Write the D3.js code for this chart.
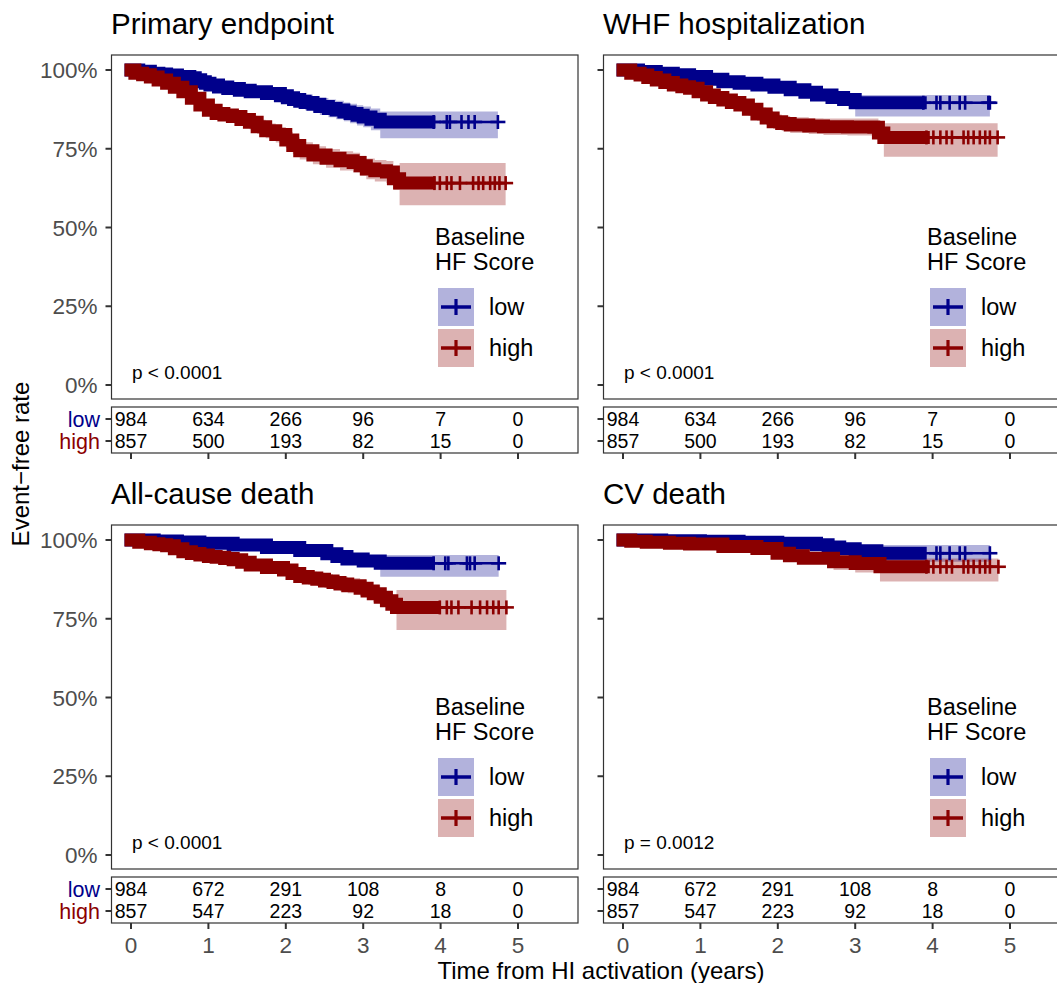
<!DOCTYPE html>
<html><head><meta charset="utf-8">
<script src="https://cdn.jsdelivr.net/npm/d3@7"></script>
<style>html,body{margin:0;padding:0;background:#fff;}svg{display:block;}</style>
</head><body>
<script>
// ---------------- DATA ----------------
const panelTitles = ["Primary endpoint", "WHF hospitalization", "All-cause death", "CV death"];
const pValues = ["p < 0.0001", "p < 0.0001", "p < 0.0001", "p = 0.0012"];
const groupNames = ["low", "high"];
const legendTitle = ["Baseline", "HF Score"];
const xTicks = [0, 1, 2, 3, 4, 5];
const yTicks = [0, 0.25, 0.5, 0.75, 1];
const yTickLabels = ["0%", "25%", "50%", "75%", "100%"];
const riskTimes = [0, 1, 2, 3, 4, 5];
const riskTopLow = [984, 634, 266, 96, 7, 0];
const riskTopHigh = [857, 500, 193, 82, 15, 0];
const riskBotLow = [984, 672, 291, 108, 8, 0];
const riskBotHigh = [857, 547, 223, 92, 18, 0];

// Primary endpoint
const primLowT  = [0, .1, .25, .36, .46, .6, .76, .83, .9, .96, 1.02, 1.13, 1.25, 1.4, 1.54, 1.75, 1.93, 2.02, 2.1, 2.18, 2.25, 2.35, 2.44, 2.55, 2.65, 2.75, 2.83, 2.92, 3.0, 3.1, 3.22];
const primLowS  = [1, .996, .99, .987, .984, .979, .975, .969, .963, .958, .952, .946, .941, .936, .931, .925, .918, .912, .906, .901, .897, .891, .884, .878, .873, .867, .862, .856, .851, .844, .835];
const primLowLo = [1, .992, .984, .980, .976, .970, .965, .958, .951, .945, .939, .932, .926, .920, .914, .906, .897, .890, .883, .877, .872, .865, .857, .850, .844, .837, .831, .824, .818, .809, .783];
const primLowHi = [1, 1, .996, .994, .992, .988, .985, .980, .975, .971, .965, .960, .956, .952, .948, .944, .939, .934, .929, .925, .922, .917, .911, .906, .902, .897, .893, .888, .884, .878, .868];
const primLowEnd = 4.74, primLowDense = 3.85;
const primLowCens = [3.91, 4.08, 4.12, 4.27, 4.36, 4.44, 4.74];

const primHighT  = [0, .05, .15, .25, .35, .46, .56, .67, .78, .89, 1.0, 1.1, 1.2, 1.31, 1.42, 1.53, 1.63, 1.74, 1.87, 2.0, 2.09, 2.18, 2.35, 2.52, 2.7, 2.87, 2.96, 3.04, 3.15, 3.3, 3.39, 3.47];
const primHighS  = [1, .99, .985, .978, .968, .958, .945, .931, .91, .889, .872, .862, .857, .852, .843, .834, .82, .807, .795, .778, .76, .744, .73, .72, .712, .706, .696, .686, .68, .676, .655, .641];
const primHighLo = [1, .983, .977, .969, .958, .947, .932, .917, .895, .873, .855, .844, .838, .832, .822, .812, .797, .783, .770, .752, .733, .716, .701, .690, .681, .675, .664, .653, .646, .641, .619, .571];
const primHighHi = [1, .997, .993, .987, .978, .969, .957, .944, .924, .904, .888, .879, .875, .871, .863, .855, .842, .830, .819, .803, .786, .771, .758, .749, .742, .737, .728, .719, .714, .711, .692, .705];
const primHighEnd = 4.84, primHighDense = 3.85;
const primHighCens = [3.92, 3.99, 4.08, 4.14, 4.25, 4.42, 4.49, 4.55, 4.64, 4.70, 4.76, 4.84];

// WHF hospitalization
const whfLowT  = [0, 0.2, 0.43, 0.65, 0.86, 1.08, 1.29, 1.5, 1.73, 1.95, 2.16, 2.35, 2.5, 2.7, 2.85, 3.0];
const whfLowS  = [1, .995, .99, .985, .979, .971, .963, .958, .952, .945, .937, .929, .921, .913, .906, .896];
const whfLowLo = [1, .990, .984, .978, .971, .962, .953, .947, .940, .932, .923, .914, .905, .896, .887, .852];
const whfLowHi = [1, 1, .996, .992, .987, .980, .973, .969, .964, .958, .951, .944, .937, .930, .925, .921];
const whfLowEnd = 4.74, whfLowDense = 3.84;
const whfLowCens = [3.88, 4.05, 4.10, 4.22, 4.35, 4.42, 4.72, 4.74];

const whfHighT  = [0, .1, .22, .32, .43, .54, .65, .76, .86, .97, 1.08, 1.18, 1.29, 1.4, 1.51, 1.62, 1.73, 1.85, 1.94, 2.05, 2.16, 2.4, 2.59, 2.9, 3.24, 3.3, 3.37];
const whfHighS  = [1, .99, .984, .976, .968, .960, .952, .947, .942, .931, .921, .913, .905, .897, .889, .875, .860, .848, .836, .830, .825, .822, .82, .819, .818, .80, .786];
const whfHighLo = [1, .983, .976, .967, .958, .949, .941, .935, .929, .917, .906, .897, .888, .879, .870, .855, .839, .826, .813, .806, .800, .797, .794, .792, .790, .770, .725];
const whfHighHi = [1, .997, .992, .985, .978, .971, .963, .959, .955, .945, .936, .929, .922, .915, .908, .895, .881, .870, .859, .854, .850, .847, .846, .846, .846, .830, .831];
const whfHighEnd = 4.84, whfHighDense = 3.88;
const whfHighCens = [3.92, 4.01, 4.10, 4.18, 4.25, 4.40, 4.46, 4.53, 4.61, 4.68, 4.74, 4.84];

// All-cause death
const allLowT  = [0, 0.3, 0.6, 0.89, 1.32, 1.75, 2.18, 2.53, 2.66, 2.79, 3.0, 3.22];
const allLowS  = [1, .997, .994, .99, .984, .976, .967, .956, .948, .94, .933, .926];
const allLowLo = [1, .994, .990, .985, .977, .967, .956, .943, .934, .924, .915, .883];
const allLowHi = [1, 1, .998, .995, .991, .985, .978, .969, .962, .956, .951, .952];
const allLowEnd = 4.75, allLowDense = 3.84;
const allLowCens = [3.91, 4.06, 4.10, 4.34, 4.38, 4.44, 4.75];

const allHighT  = [0, .1, .25, .36, .46, .56, .67, .78, .89, 1.0, 1.1, 1.21, 1.32, 1.43, 1.54, 1.75, 1.97, 2.08, 2.18, 2.29, 2.4, 2.5, 2.61, 2.7, 2.8, 2.96, 3.05, 3.13, 3.22, 3.3, 3.37, 3.43];
const allHighS  = [1, .993, .988, .985, .982, .972, .963, .957, .952, .948, .945, .941, .937, .929, .921, .913, .905, .894, .884, .879, .875, .870, .865, .860, .855, .847, .838, .829, .818, .807, .796, .786];
const allHighLo = [1, .987, .981, .977, .973, .962, .951, .944, .939, .934, .931, .926, .922, .913, .905, .896, .887, .875, .864, .858, .854, .848, .843, .837, .831, .822, .812, .802, .790, .778, .765, .714];
const allHighHi = [1, .999, .995, .993, .991, .982, .975, .970, .965, .962, .959, .956, .952, .945, .937, .930, .923, .913, .904, .900, .896, .892, .887, .883, .879, .872, .864, .856, .846, .836, .826, .841];
const allHighEnd = 4.85, allHighDense = 3.90;
const allHighCens = [3.99, 4.08, 4.14, 4.23, 4.40, 4.51, 4.60, 4.68, 4.75, 4.85];

// CV death
const cvLowT  = [0, 0.5, 1.0, 1.5, 2.0, 2.5, 2.65, 2.8, 3.0, 3.28];
const cvLowS  = [1, .998, .996, .993, .99, .985, .978, .972, .966, .958];
const cvLowLo = [1, .995, .992, .988, .984, .978, .969, .961, .953, .931];
const cvLowHi = [1, 1, 1, .998, .996, .992, .987, .983, .979, .984];
const cvLowEnd = 4.74, cvLowDense = 3.84;
const cvLowCens = [4.05, 4.10, 4.22, 4.35, 4.42, 4.74];

const cvHighT  = [0, 0.1, 0.3, 0.6, 0.86, 1.29, 1.73, 1.99, 2.15, 2.33, 2.72, 3.0, 3.32];
const cvHighS  = [1, .996, .993, .99, .987, .979, .973, .958, .95, .942, .931, .925, .915];
const cvHighLo = [1, .992, .988, .984, .980, .970, .963, .946, .936, .925, .905, .897, .868];
const cvHighHi = [1, 1, .998, .996, .994, .988, .983, .970, .964, .957, .950, .946, .941];
const cvHighEnd = 4.85, cvHighDense = 3.88;
const cvHighCens = [3.92, 4.01, 4.10, 4.18, 4.25, 4.40, 4.46, 4.53, 4.61, 4.68, 4.74, 4.85];

// -------------- assembly --------------
function curve(t, s, lo, hi, end, dense, cens) { return {t, s, lo, hi, end, dense, cens}; }
const panels = [
  {title: panelTitles[0], p: pValues[0], risk: [riskTopLow, riskTopHigh],
   curves: [curve(primLowT, primLowS, primLowLo, primLowHi, primLowEnd, primLowDense, primLowCens),
            curve(primHighT, primHighS, primHighLo, primHighHi, primHighEnd, primHighDense, primHighCens)]},
  {title: panelTitles[1], p: pValues[1], risk: [riskTopLow, riskTopHigh],
   curves: [curve(whfLowT, whfLowS, whfLowLo, whfLowHi, whfLowEnd, whfLowDense, whfLowCens),
            curve(whfHighT, whfHighS, whfHighLo, whfHighHi, whfHighEnd, whfHighDense, whfHighCens)]},
  {title: panelTitles[2], p: pValues[2], risk: [riskBotLow, riskBotHigh],
   curves: [curve(allLowT, allLowS, allLowLo, allLowHi, allLowEnd, allLowDense, allLowCens),
            curve(allHighT, allHighS, allHighLo, allHighHi, allHighEnd, allHighDense, allHighCens)]},
  {title: panelTitles[3], p: pValues[3], risk: [riskBotLow, riskBotHigh],
   curves: [curve(cvLowT, cvLowS, cvLowLo, cvLowHi, cvLowEnd, cvLowDense, cvLowCens),
            curve(cvHighT, cvHighS, cvHighLo, cvHighHi, cvHighEnd, cvHighDense, cvHighCens)]}
];

// -------------- styling / layout --------------
const W = 1057, H = 983;
const FONT = "'Liberation Sans', Arial, Helvetica, sans-serif";
const colors = ["#00008B", "#8B0000"];
const fills = ["rgba(0,0,139,0.3)", "rgba(139,0,0,0.3)"];
const cols = [{x0: 111.5, x1: 578}, {x0: 603.5, x1: 1070}];
const rows = [{py0: 55, py1: 399, ty0: 407, ty1: 453}, {py0: 525, py1: 869, ty0: 877, ty1: 923}];
const border = "#333333";

const svg = d3.select("body").append("svg").attr("width", W).attr("height", H)
  .style("font-family", FONT);

function stepPoints(c, upTo) {
  const pts = [];
  for (let i = 0; i < c.t.length; i++) {
    if (c.t[i] <= upTo) pts.push({t: c.t[i], s: c.s[i], lo: c.lo[i], hi: c.hi[i]});
  }
  const last = pts[pts.length - 1];
  pts.push({t: upTo, s: last.s, lo: last.lo, hi: last.hi});
  return pts;
}
function survAt(c, tt) {
  let v = c.s[0];
  for (let i = 0; i < c.t.length; i++) if (c.t[i] <= tt) v = c.s[i];
  return v;
}

panels.forEach((pn, i) => {
  const col = cols[i % 2], row = rows[Math.floor(i / 2)];
  const x = d3.scaleLinear().domain([-0.252, 5.775]).range([col.x0, col.x1]);
  const y = d3.scaleLinear().domain([-0.0444, 1.0476]).range([row.py1, row.py0]);
  const g = svg.append("g");

  // title
  g.append("text").attr("x", col.x0 - 0.5).attr("y", row.py0 - 21)
    .attr("font-size", 29.5).attr("fill", "#000").text(pn.title);

  // CI ribbons
  const area = d3.area().curve(d3.curveStepAfter)
    .x(d => x(d.t)).y0(d => y(d.lo)).y1(d => y(d.hi));
  pn.curves.forEach((c, k) => {
    g.append("path").attr("d", area(stepPoints(c, c.end)))
      .attr("fill", fills[k]).attr("stroke", "none");
  });
  // lines
  const line = d3.line().curve(d3.curveStepAfter).x(d => x(d.t)).y(d => y(d.s));
  pn.curves.forEach((c, k) => {
    g.append("path").attr("d", line(stepPoints(c, c.end)))
      .attr("fill", "none").attr("stroke", colors[k]).attr("stroke-width", 2.6);
    // dense censoring band (many overlapping '+' marks)
    g.append("path").attr("d", line(stepPoints(c, c.dense)))
      .attr("fill", "none").attr("stroke", colors[k]).attr("stroke-width", 13)
      .attr("stroke-linecap", "square").attr("stroke-linejoin", "miter");
    // individual censor '+' marks
    c.cens.forEach(ct => {
      const cx = x(ct), cy = y(survAt(c, ct));
      g.append("line").attr("x1", cx).attr("x2", cx).attr("y1", cy - 7).attr("y2", cy + 7)
        .attr("stroke", colors[k]).attr("stroke-width", 2.6);
      g.append("line").attr("x1", cx - 7.5).attr("x2", cx + 7.5).attr("y1", cy).attr("y2", cy)
        .attr("stroke", colors[k]).attr("stroke-width", 2.6);
    });
  });

  // panel border
  g.append("rect").attr("x", col.x0).attr("y", row.py0)
    .attr("width", col.x1 - col.x0).attr("height", row.py1 - row.py0)
    .attr("fill", "none").attr("stroke", border).attr("stroke-width", 1.2);

  // y ticks
  yTicks.forEach((v, j) => {
    g.append("line").attr("x1", col.x0 - 6).attr("x2", col.x0).attr("y1", y(v)).attr("y2", y(v))
      .attr("stroke", border).attr("stroke-width", 2);
    if (i % 2 === 0) {
      g.append("text").attr("x", col.x0 - 14).attr("y", y(v)).attr("dy", "0.36em")
        .attr("text-anchor", "end").attr("font-size", 22.5).attr("fill", "#4D4D4D").text(yTickLabels[j]);
    }
  });

  // p value
  g.append("text").attr("x", x(0) + 1).attr("y", row.py1 - 27).attr("dy", "0.35em")
    .attr("font-size", 19).attr("fill", "#000").text(pn.p);

  // legend
  const lx = col.x0 + 323.5;
  g.append("text").attr("x", lx).attr("y", row.py0 + 190).attr("font-size", 23.5).text(legendTitle[0]);
  g.append("text").attr("x", lx).attr("y", row.py0 + 215).attr("font-size", 23.5).text(legendTitle[1]);
  groupNames.forEach((nm, k) => {
    const ky = row.py0 + 233 + k * 41;
    const kx = col.x0 + 326.5;
    g.append("rect").attr("x", kx).attr("y", ky).attr("width", 36).attr("height", 38).attr("fill", fills[k]);
    g.append("line").attr("x1", kx + 3).attr("x2", kx + 33).attr("y1", ky + 19).attr("y2", ky + 19)
      .attr("stroke", colors[k]).attr("stroke-width", 3.5);
    g.append("line").attr("x1", kx + 18).attr("x2", kx + 18).attr("y1", ky + 11).attr("y2", ky + 27)
      .attr("stroke", colors[k]).attr("stroke-width", 3.2);
    g.append("text").attr("x", col.x0 + 377.5).attr("y", ky + 19).attr("dy", "0.36em")
      .attr("font-size", 23.5).text(nm);
  });

  // risk table
  g.append("rect").attr("x", col.x0).attr("y", row.ty0)
    .attr("width", col.x1 - col.x0).attr("height", row.ty1 - row.ty0)
    .attr("fill", "none").attr("stroke", border).attr("stroke-width", 1.2);
  groupNames.forEach((nm, k) => {
    const ry = row.ty0 + 12 + k * 22;
    g.append("line").attr("x1", col.x0 - 6).attr("x2", col.x0).attr("y1", ry).attr("y2", ry)
      .attr("stroke", border).attr("stroke-width", 2);
    if (i % 2 === 0) {
      g.append("text").attr("x", col.x0 - 11.5).attr("y", ry).attr("dy", "0.36em")
        .attr("text-anchor", "end").attr("font-size", 21.5).attr("fill", colors[k]).text(nm);
    }
    pn.risk[k].forEach((n, j) => {
      g.append("text").attr("x", x(riskTimes[j])).attr("y", ry).attr("dy", "0.36em")
        .attr("text-anchor", "middle").attr("font-size", 19.5).attr("fill", "#000").text(n);
    });
  });
  // x ticks under the table
  xTicks.forEach(v => {
    g.append("line").attr("x1", x(v)).attr("x2", x(v)).attr("y1", row.ty1).attr("y2", row.ty1 + 6)
      .attr("stroke", border).attr("stroke-width", 2);
    if (i >= 2) {
      g.append("text").attr("x", x(v)).attr("y", row.ty1 + 22).attr("dy", "0.36em")
        .attr("text-anchor", "middle").attr("font-size", 22.5).attr("fill", "#4D4D4D").text(v);
    }
  });
});

// axis titles
svg.append("text").attr("x", 601).attr("y", 970).attr("dy", "0.36em").attr("text-anchor", "middle")
  .attr("font-size", 24).attr("fill", "#000").text("Time from HI activation (years)");
svg.append("text").attr("transform", "translate(20,464) rotate(-90)").attr("dy", "0.36em")
  .attr("text-anchor", "middle").attr("font-size", 24).attr("fill", "#000").text("Event\u2212free rate");
</script>
</body></html>
